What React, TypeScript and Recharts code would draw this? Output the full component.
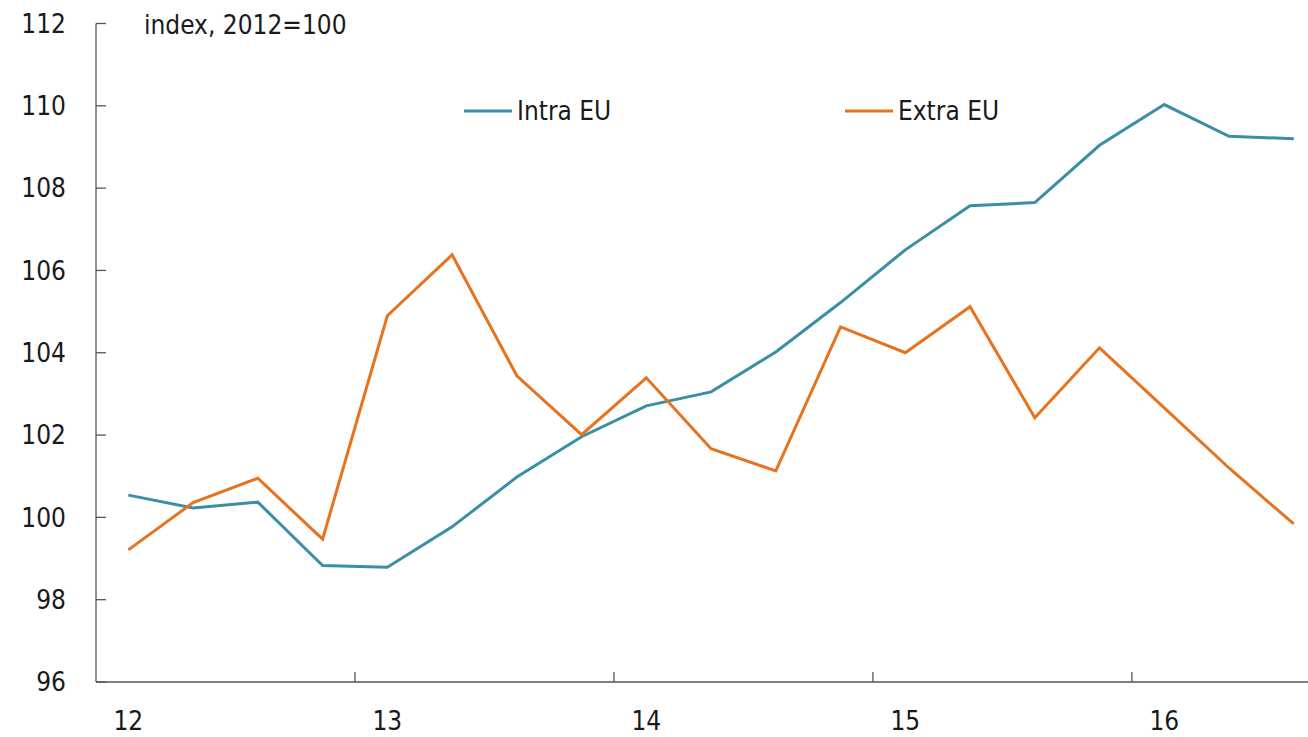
import React from 'react';
import { LineChart, Line, XAxis, YAxis, Legend } from 'recharts';

const quarters = [
  '2012Q1', '2012Q2', '2012Q3', '2012Q4',
  '2013Q1', '2013Q2', '2013Q3', '2013Q4',
  '2014Q1', '2014Q2', '2014Q3', '2014Q4',
  '2015Q1', '2015Q2', '2015Q3', '2015Q4',
  '2016Q1', '2016Q2', '2016Q3',
];
const intraEU = [100.54, 100.23, 100.37, 98.83, 98.79, 99.77, 100.98, 101.96, 102.71, 103.05, 104.02, 105.22, 106.5, 107.57, 107.65, 109.04, 110.03, 109.26, 109.2];
const extraEU = [99.21, 100.36, 100.95, 99.47, 104.9, 106.38, 103.44, 102.01, 103.39, 101.67, 101.13, 104.63, 104.0, 105.12, 102.42, 104.12, 102.66, 101.2, 99.84];
const yTicks = [96, 98, 100, 102, 104, 106, 108, 110, 112];
const titleText = 'index, 2012=100';
const seriesNames = ['Intra EU', 'Extra EU'];
const seriesColors = ['#3A8EA6', '#E8731E'];

const data = quarters.map((q, i) => ({ x: i + 0.5, q, intra: intraEU[i], extra: extraEU[i] }));

const xTicks: number[] = [];
quarters.forEach((q, i) => {
  if (q.endsWith('Q1')) {
    if (i > 0) xTicks.push(i);
    xTicks.push(i + 0.5);
  }
});

const FONT = '"DejaVu Sans Condensed", "DejaVu Sans", sans-serif';
const TEXT = '#1a1a1a';
const AXIS = '#555';

const XTick = (props: any) => {
  const { x, y, payload } = props;
  const v = payload.value as number;
  if (Number.isInteger(v)) {
    return <line x1={x} y1={y} x2={x} y2={y - 10} stroke={AXIS} strokeWidth={1.3} />;
  }
  const label = quarters[Math.round(v - 0.5)].slice(2, 4);
  return (
    <text x={x} y={y + 48} textAnchor="middle" fontFamily={FONT} fontSize={26} fill={TEXT}>
      {label}
    </text>
  );
};

const YTick = (props: any) => {
  const { x, y, payload } = props;
  return (
    <g>
      <line x1={x} y1={y} x2={x + 10} y2={y} stroke={AXIS} strokeWidth={1.3} />
      <text x={x - 30} y={y} dy="0.36em" textAnchor="end" fontFamily={FONT} fontSize={26} fill={TEXT}>
        {payload.value}
      </text>
    </g>
  );
};

const legendX = [464, 845];

const LegendContent = (props: any) => {
  const payload = props.payload || [];
  const ordered = seriesNames
    .map((n) => payload.find((p: any) => p.value === n))
    .filter(Boolean);
  return (
    <svg width={1308} height={140} style={{ display: 'block' }}>
      <text x={144} y={34} fontFamily={FONT} fontSize={26} fill={TEXT}>{titleText}</text>
      {ordered.map((p: any, i: number) => (
        <g key={i}>
          <line x1={legendX[i]} y1={111} x2={legendX[i] + 48} y2={111} stroke={p.color} strokeWidth={3} />
          <text x={legendX[i] + 53} y={111} dy="0.36em" fontFamily={FONT} fontSize={26} fill={TEXT}>{p.value}</text>
        </g>
      ))}
    </svg>
  );
};

export default function App() {
  return (
    <div style={{ position: 'absolute', left: 0, top: 0, width: 1308, height: 737, background: '#fff' }}>
      <LineChart width={1308} height={737} data={data} margin={{ top: 23.5, right: 0, bottom: 0, left: 0 }}>
        <XAxis
          type="number"
          dataKey="x"
          domain={[0, 18.72]}
          allowDataOverflow
          ticks={xTicks}
          interval={0}
          height={55}
          tickSize={0}
          tickMargin={0}
          tickLine={false}
          tick={<XTick />}
          stroke={AXIS}
          strokeWidth={1.3}
        />
        <YAxis
          type="number"
          domain={[96, 112]}
          ticks={yTicks}
          interval={0}
          width={96}
          tickSize={0}
          tickMargin={0}
          tickLine={false}
          tick={<YTick />}
          stroke={AXIS}
          strokeWidth={1.3}
        />
        <Legend
          layout="horizontal"
          verticalAlign="middle"
          align="center"
          wrapperStyle={{ position: 'absolute', left: 0, top: 0, width: 1308, height: 140 }}
          content={<LegendContent />}
        />
        <Line type="linear" dataKey="intra" name={seriesNames[0]} stroke={seriesColors[0]} strokeWidth={3} dot={false} isAnimationActive={false} />
        <Line type="linear" dataKey="extra" name={seriesNames[1]} stroke={seriesColors[1]} strokeWidth={3} dot={false} isAnimationActive={false} />
      </LineChart>
    </div>
  );
}
